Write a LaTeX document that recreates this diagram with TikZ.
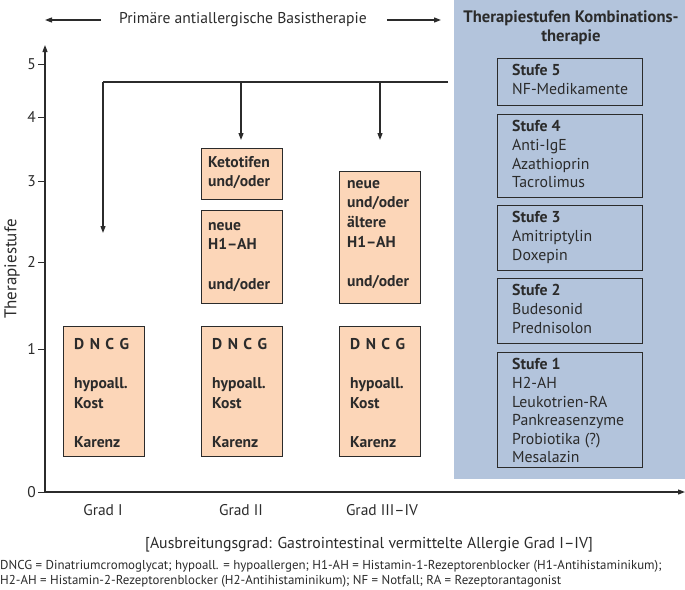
\documentclass[tikz,border=0pt]{standalone}
\usepackage{fontspec}
\setmainfont{PT Sans}
\usetikzlibrary{arrows.meta}
\definecolor{panel}{HTML}{B3C4DC}
\definecolor{peach}{HTML}{FCD6B8}
\definecolor{ink}{HTML}{2B2B2B}
\begin{document}
\begin{tikzpicture}[x=1pt,y=-1pt,
  line/.style={draw=ink, line width=1.2pt},
  arr/.style={line, -{Triangle[length=7pt,width=5pt]}},
  obox/.style={draw=ink, line width=1.3pt, fill=peach, anchor=north west, inner sep=0pt, minimum width=81pt},
  sbox/.style={draw=ink, line width=1.3pt, anchor=north west, inner sep=0pt, minimum width=145pt},
  btxt/.style={font=\bfseries\fontsize{15.6}{19.6}\selectfont, align=left, anchor=north west, inner sep=0pt, text=ink},
  stxt/.style={font=\fontsize{15.8}{18.6}\selectfont, align=left, anchor=north west, inner sep=0pt, text=ink},
  rtxt/.style={font=\fontsize{15.5}{18}\selectfont, inner sep=0pt, text=ink},
  tick/.style={line, line width=1pt},
]
\useasboundingbox (0,0) rectangle (685,589);
% panel
\node[fill=panel, anchor=north west, inner sep=0pt, minimum width=231pt, minimum height=479pt] (panel) at (454,0) {};
\node[font=\bfseries\fontsize{16.6}{19.5}\selectfont, align=center, inner sep=0pt, text=ink, anchor=north] (ptitle) at (571,10) {Therapiestufen Kombinations-\\therapie};
% stufe boxes
\node[sbox, minimum height=47pt] (s5) at (497,58) {};
\node[sbox, minimum height=83pt] (s4) at (497,114) {};
\node[sbox, minimum height=65pt] (s3) at (497,205) {};
\node[sbox, minimum height=65pt] (s2) at (497,278) {};
\node[sbox, minimum height=115pt] (s1) at (497,352) {};
\node[stxt] (t5) at ([shift={(15,6.5)}]s5.north west) {\textbf{Stufe 5}\\NF-Medikamente};
\node[stxt] (t4) at ([shift={(15,6.5)}]s4.north west) {\textbf{Stufe 4}\\Anti-IgE\\Azathioprin\\Tacrolimus};
\node[stxt] (t3) at ([shift={(15,6.5)}]s3.north west) {\textbf{Stufe 3}\\Amitriptylin\\Doxepin};
\node[stxt] (t2) at ([shift={(15,6.5)}]s2.north west) {\textbf{Stufe 2}\\Budesonid\\Prednisolon};
\node[stxt] (t1) at ([shift={(15,6.5)}]s1.north west) {\textbf{Stufe 1}\\H2-AH\\Leukotrien-RA\\Pankreasenzyme\\Probiotika (?)\\Mesalazin};
% title
\node[rtxt, font=\fontsize{15.6}{18}\selectfont] (title) at (243,20) {Primäre antiallergische Basistherapie};
\coordinate (tl) at (45,20);
\coordinate (tr) at (441,20);
\draw[arr] ([xshift=-18pt]title.west) -- (tl);
\draw[arr] ([xshift=20pt]title.east) -- (tr);
% axes
\coordinate (O) at (45,492);
\coordinate (ytop) at (45,45);
\coordinate (xend) at (685,492);
\draw[arr] (O) -- (ytop);
\draw[arr] (O) -- (xend);
\foreach \v/\yy in {0/492,1/349,2/262,3/181,4/117,5/64}{
  \draw[tick] (38,\yy) -- (45,\yy);
  \node[rtxt, anchor=east] (tick\v) at (36,\yy) {\v};
}
\node[rtxt, font=\fontsize{17}{18}\selectfont, rotate=90] (ylab) at (12,269) {Therapiestufe};
\node[rtxt] (g1) at (103,510) {Grad I};
\node[rtxt] (g2) at (241,510) {Grad II};
\node[rtxt] (g3) at (382,510) {Grad III–IV};
\node[rtxt, font=\fontsize{15.8}{18}\selectfont, anchor=west] (xlab) at (145,545) {[Ausbreitungsgrad: Gastrointestinal vermittelte Allergie Grad I–IV]};
% orange boxes
\node[obox, minimum height=130pt] (d1) at (63,326) {};
\node[obox, minimum height=130pt] (d2) at (201,326) {};
\node[obox, minimum height=130pt] (d3) at (339,326) {};
\node[obox, minimum height=51pt] (k2) at (201,148) {};
\node[obox, minimum height=93pt] (h2) at (201,210) {};
\node[obox, minimum height=132pt] (h3) at (339,171) {};
\foreach \b in {d1,d2,d3}{
  \node[btxt] (txt\b) at ([shift={(11,12)}]\b.north west) {D\hspace{0.35em}N\hspace{0.35em}C\hspace{0.35em}G\\\mbox{}\\hypoall.\\Kost\\\mbox{}\\Karenz};
}
\node[btxt] (txtk2) at ([shift={(7,8)}]k2.north west) {Ketotifen\\und/oder};
\node[btxt] (txth2) at ([shift={(7,12)}]h2.north west) {neue\\H1–AH\\\mbox{}\\und/oder};
\node[btxt] (txth3) at ([shift={(8,9)}]h3.north west) {neue\\und/oder\\ältere\\H1–AH\\\mbox{}\\und/oder};
% connectors
\coordinate (hL) at (103,82);
\coordinate (hM) at (241,82);
\coordinate (hN) at (380,82);
\coordinate (hR) at (448,82);
\coordinate (e1) at (103,233);
\coordinate (e2) at (241,140);
\coordinate (e3) at (380,140);
\draw[line] (hR) -- (hL);
\draw[arr] (hL) -- (e1);
\draw[arr] (hM) -- (e2);
\draw[arr] (hN) -- (e3);
% footnote
\node[font=\fontsize{12.9}{15}\selectfont, align=left, anchor=north west, inner sep=0pt, text=ink] (foot) at (0,560) {DNCG = Dinatriumcromoglycat; hypoall. = hypoallergen; H1-AH = Histamin-1-Rezeptorenblocker (H1-Antihistaminikum);\\H2-AH = Histamin-2-Rezeptorenblocker (H2-Antihistaminikum); NF = Notfall; RA = Rezeptorantagonist};
\end{tikzpicture}
\end{document}
